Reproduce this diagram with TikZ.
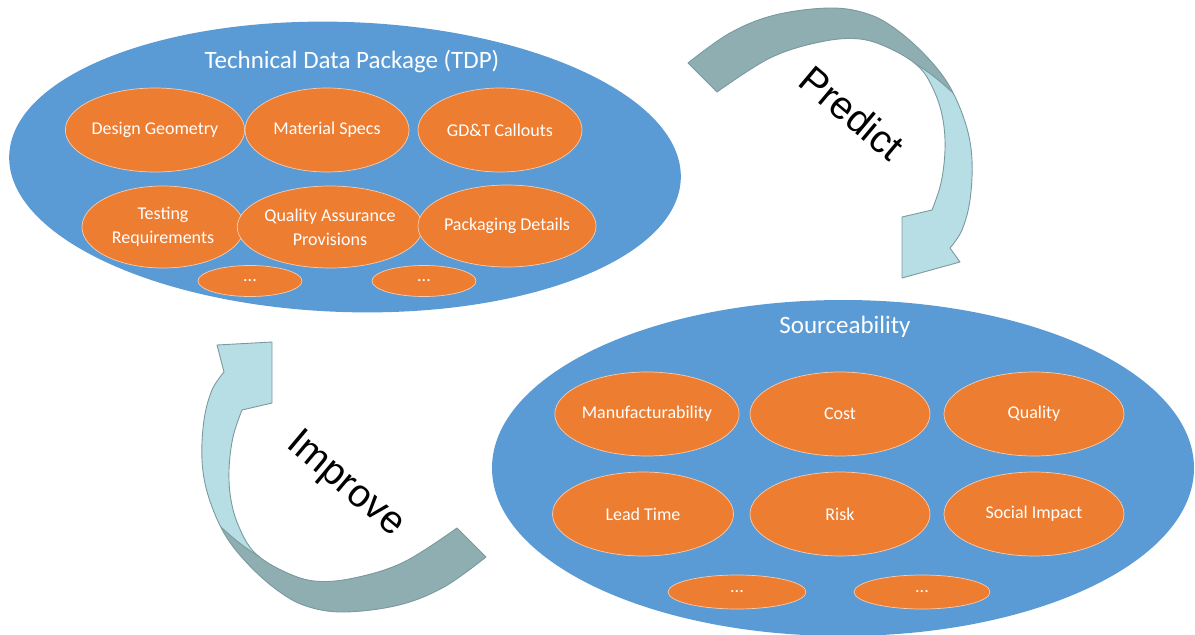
\documentclass[tikz,border=0pt]{standalone}
\usepackage{fontspec}
\setmainfont{Carlito}
\newfontfamily\arialfont{Liberation Sans}
\usetikzlibrary{shapes.geometric}
\definecolor{bigblue}{HTML}{5B9BD5}
\definecolor{org}{HTML}{ED7D31}
\definecolor{orgline}{HTML}{F8CBAD}
\definecolor{arrdark}{HTML}{8FAEB2}
\definecolor{arrlight}{HTML}{B7DEE4}
\definecolor{arrline}{HTML}{7A9A9F}
% #1 = outer corner of the arrow head
\newcommand{\arrowpath}[1]{%
  plot[smooth, tension=0.6] coordinates {(688,63) (730,33) (775,15) (830,8) (868,14) (897,30) (927,57) (950,87) (966,125) (972,160) (970,200) (962,230) (950,248)}
  -- #1 -- (902,278) -- (902,217) -- (932,210)
  -- plot[smooth, tension=0.6] coordinates {(932,210) (941,183) (945,150) (943,120) (935,93) (920,68) (893,50) (860,39) (820,42) (770,58) (717,92)}
  -- cycle}
\newcommand{\darkpart}{%
  (995,135) .. controls (962,102) and (940,76) .. (905,58) -- (850,75) -- (700,160) -- (600,160) -- (600,-20) -- (1010,-20) -- (1010,135) -- cycle}
\newcommand{\dividerpath}{%
  (995,135) .. controls (962,102) and (940,76) .. (905,58)}
\newcommand{\curvedarrow}[1]{%
  \fill[arrlight] \arrowpath{#1};
  \begin{scope}
    \clip \arrowpath{#1};
    \fill[arrdark] \darkpart;
    \draw[arrline, line width=0.9pt] \dividerpath;
  \end{scope}
  \draw[arrline, line width=0.9pt, line join=round] \arrowpath{#1};}
\begin{document}
\begin{tikzpicture}[x=1pt, y=-1pt,
  big/.style={ellipse, fill=bigblue, draw=none, inner sep=0pt},
  item/.style={ellipse, fill=org, draw=orgline, line width=0.7pt, inner sep=0pt,
    minimum width=162pt, minimum height=84pt, text=white,
    font=\fontsize{18}{24}\selectfont, align=center},
  dots/.style={item, minimum width=104pt, minimum height=31pt},
  bigtitle/.style={text=white, font=\fontsize{25}{30}\selectfont, inner sep=0pt},
  arrlab/.style={font=\arialfont\fontsize{39}{39}\selectfont, text=black, inner sep=0pt}]
\useasboundingbox (0,0) rectangle (1195,635);

% arrows
\curvedarrow{(960,262)}
\begin{scope}[rotate around={180:(587,310)}]
\curvedarrow{(957,275)}
\end{scope}
\node[arrlab, rotate=-40] (predict) at (852,113) {Predict};
\node[arrlab, rotate=-40] (improve) at (345,485) {Improve};

% TDP
\node[big, minimum width=672pt, minimum height=290pt, rotate=-2] (tdp) at (345,167) {};
\node[bigtitle] (tdpt) at (352,62) {Technical Data Package (TDP)};
\node[item, minimum width=160pt] (dg) at (155,130) {Design Geometry};
\node[item, minimum width=164pt] (ms) at (327,130) {Material Specs};
\node[item, minimum width=164pt] (gdt) at (500,130) {GD\&T Callouts};
\node[item, minimum width=162pt, minimum height=82pt] (tr) at (163,227) {Testing\\Requirements};
\node[item, minimum width=152pt, minimum height=82pt] (qa) at (330,227) {Quality Assurance\\Provisions};
\node[item, minimum width=162pt, minimum height=82pt] (pd) at (507,226) {Packaging Details};
\node[dots] (td1) at (250,281) {...};
\node[dots] (td2) at (424,281) {...};

% Sourceability
\node[big, minimum width=702pt, minimum height=336pt] (src) at (843,468) {};
\node[bigtitle] (srct) at (845,327) {Sourceability};
\node[item, minimum width=182pt] (man) at (647,414) {Manufacturability};
\node[item, minimum width=180pt] (cost) at (840,414) {Cost};
\node[item, minimum width=180pt] (qual) at (1034,414) {Quality};
\node[item, minimum width=181pt] (lead) at (643,514) {Lead Time};
\node[item, minimum width=180pt] (risk) at (840,514) {Risk};
\node[item, minimum width=180pt] (soc) at (1034,514) {Social Impact};
\node[dots, minimum width=138pt, minimum height=34pt] (sd1) at (737,592) {...};
\node[dots, minimum width=136pt, minimum height=34pt] (sd2) at (922,592) {...};
\end{tikzpicture}
\end{document}
